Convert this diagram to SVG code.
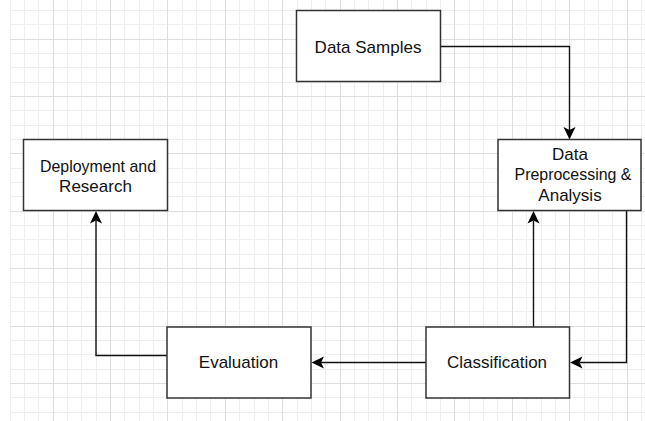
<svg xmlns="http://www.w3.org/2000/svg" width="645" height="421" viewBox="0 0 645 421">
  <style>
    .minor { stroke: #eeeeee; stroke-width: 1; fill: none; }
    .major { stroke: #dedede; stroke-width: 1; fill: none; }
    .box { fill: #ffffff; stroke: #333333; stroke-width: 1.5; }
    .lbl { font-family: "Liberation Sans", Arial, Helvetica, sans-serif; font-size: 17px; fill: #111111; text-anchor: middle; }
    .edge { fill: none; stroke: #111111; stroke-width: 1.4; }
  </style>
  <defs>
    <marker id="arr" markerUnits="userSpaceOnUse" markerWidth="14" markerHeight="14" refX="3" refY="6.5" orient="auto">
      <path d="M0,0.5 L12.5,6.5 L0,12.5 L3,6.5 Z" fill="#000000"/>
    </marker>
  </defs>
  <rect x="0" y="0" width="645" height="421" fill="#ffffff"/>
  <g id="grid">
    <path class="minor" d="M10.5,0V421 M24.5,0V421 M38.5,0V421 M67.5,0V421 M81.5,0V421 M96.5,0V421 M124.5,0V421 M139.5,0V421 M153.5,0V421 M182.5,0V421 M196.5,0V421 M210.5,0V421 M239.5,0V421 M254.5,0V421 M268.5,0V421 M297.5,0V421 M311.5,0V421 M325.5,0V421 M354.5,0V421 M368.5,0V421 M383.5,0V421 M411.5,0V421 M426.5,0V421 M440.5,0V421 M469.5,0V421 M483.5,0V421 M497.5,0V421 M526.5,0V421 M541.5,0V421 M555.5,0V421 M584.5,0V421 M598.5,0V421 M612.5,0V421 M641.5,0V421
      M10,10.5H645 M10,24.5H645 M10,53.5H645 M10,67.5H645 M10,82.5H645 M10,110.5H645 M10,125.5H645 M10,139.5H645 M10,168.5H645 M10,182.5H645 M10,196.5H645 M10,225.5H645 M10,239.5H645 M10,254.5H645 M10,282.5H645 M10,297.5H645 M10,311.5H645 M10,340.5H645 M10,354.5H645 M10,369.5H645 M10,397.5H645 M10,412.5H645"/>
    <path class="major" d="M53.5,0V421 M110.5,0V421 M167.5,0V421 M225.5,0V421 M282.5,0V421 M340.5,0V421 M397.5,0V421 M454.5,0V421 M512.5,0V421 M569.5,0V421 M627.5,0V421
      M10,39.5H645 M10,96.5H645 M10,153.5H645 M10,211.5H645 M10,268.5H645 M10,326.5H645 M10,383.5H645"/>
  </g>
  <g id="connectors">
    <path class="edge" d="M440.5,46.5 H569.5 V130" marker-end="url(#arr)"/>
    <path class="edge" d="M626.5,210.5 V362.5 H579.5" marker-end="url(#arr)"/>
    <path class="edge" d="M533.5,327 V220.5" marker-end="url(#arr)"/>
    <path class="edge" d="M426,362.5 H321" marker-end="url(#arr)"/>
    <path class="edge" d="M167,355.5 H96 V220.5" marker-end="url(#arr)"/>
  </g>
  <g id="data-samples">
    <rect class="box" x="296.5" y="10.5" width="144" height="71"/>
    <text class="lbl" x="368" y="52.5">Data Samples</text>
  </g>
  <g id="data-preprocessing">
    <rect class="box" x="498" y="139.5" width="143" height="71"/>
    <text class="lbl" x="570" y="159.5">Data</text>
    <text class="lbl" x="573" y="180" textLength="117" lengthAdjust="spacingAndGlyphs">Preprocessing &amp;</text>
    <text class="lbl" x="570" y="200.5">Analysis</text>
  </g>
  <g id="deployment">
    <rect class="box" x="23.5" y="139.5" width="144" height="71"/>
    <text class="lbl" x="98" y="171.5" textLength="116" lengthAdjust="spacingAndGlyphs">Deployment and</text>
    <text class="lbl" x="95.5" y="192">Research</text>
  </g>
  <g id="evaluation">
    <rect class="box" x="167" y="327" width="144" height="71"/>
    <text class="lbl" x="238.5" y="367.5">Evaluation</text>
  </g>
  <g id="classification">
    <rect class="box" x="426" y="327" width="143.5" height="71"/>
    <text class="lbl" x="497" y="367.5">Classification</text>
  </g>
</svg>
